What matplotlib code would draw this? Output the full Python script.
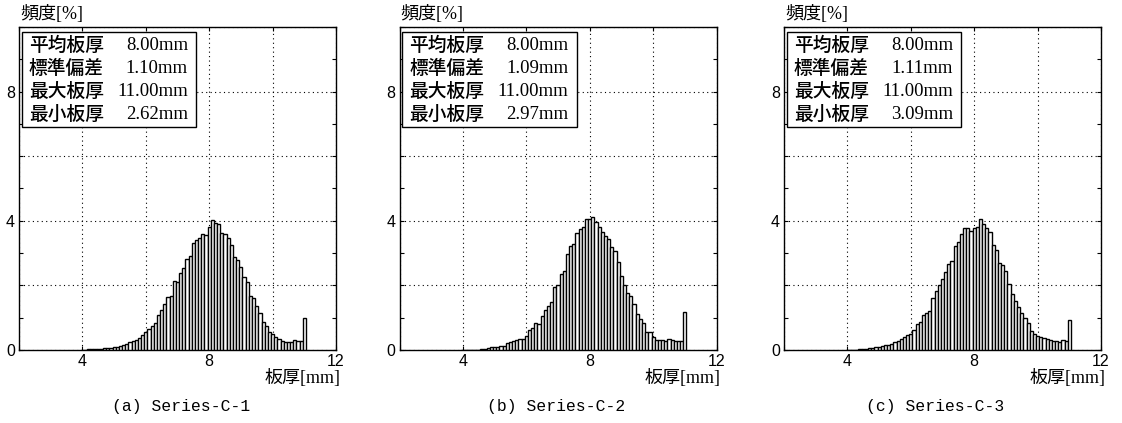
import matplotlib
matplotlib.use("Agg")
import matplotlib.pyplot as plt
import numpy as np
from matplotlib.patches import Rectangle
from matplotlib.ticker import MultipleLocator, FuncFormatter

plt.rcParams['font.family'] = ['Liberation Serif', 'Noto Sans CJK JP']

# 板厚のビン中心 (0.1mm刻み)
thickness = np.round(np.arange(4.0, 11.05, 0.1), 1)

freq_c1 = [0.01, 0.01, 0.02, 0.02, 0.03, 0.03, 0.04, 0.05, 0.06, 0.07,
           0.08, 0.10, 0.12, 0.15, 0.20, 0.26, 0.28, 0.30, 0.36, 0.46,
           0.55, 0.64, 0.75, 0.85, 1.08, 1.24, 1.43, 1.65, 1.68, 2.15,
           2.09, 2.38, 2.53, 2.81, 2.91, 3.31, 3.41, 3.46, 3.60, 3.57,
           3.82, 4.03, 3.93, 3.91, 3.62, 3.60, 3.46, 3.26, 2.89, 2.79,
           2.56, 2.27, 2.12, 1.67, 1.60, 1.36, 1.14, 0.88, 0.74, 0.57,
           0.50, 0.41, 0.33, 0.29, 0.26, 0.26, 0.26, 0.30, 0.29, 0.28,
           1.00]
freq_c2 = [0.00, 0.00, 0.01, 0.01, 0.01, 0.01, 0.02, 0.03, 0.05, 0.08,
           0.10, 0.10, 0.13, 0.13, 0.22, 0.24, 0.28, 0.31, 0.34, 0.34,
           0.42, 0.63, 0.68, 0.84, 0.82, 1.04, 1.25, 1.37, 1.50, 1.94,
           2.02, 2.35, 2.45, 2.97, 3.23, 3.28, 3.61, 3.74, 3.82, 4.05,
           4.07, 4.13, 3.95, 3.82, 3.64, 3.54, 3.43, 3.18, 3.07, 2.71,
           2.30, 2.01, 1.78, 1.68, 1.42, 1.11, 0.96, 0.84, 0.57, 0.55,
           0.39, 0.31, 0.31, 0.31, 0.29, 0.34, 0.31, 0.29, 0.28, 0.27,
           1.19]
freq_c3 = [0.00, 0.01, 0.01, 0.01, 0.02, 0.03, 0.04, 0.05, 0.06, 0.08,
           0.09, 0.11, 0.14, 0.17, 0.20, 0.25, 0.29, 0.35, 0.39, 0.46,
           0.50, 0.63, 0.79, 0.87, 1.08, 1.15, 1.22, 1.62, 1.84, 2.01,
           2.19, 2.42, 2.65, 2.76, 3.22, 3.33, 3.59, 3.79, 3.79, 3.69,
           3.79, 3.82, 4.05, 3.89, 3.77, 3.64, 3.25, 3.09, 2.70, 2.63,
           2.45, 2.03, 1.72, 1.53, 1.33, 1.15, 1.00, 0.84, 0.58, 0.48,
           0.42, 0.39, 0.37, 0.34, 0.32, 0.29, 0.27, 0.26, 0.32, 0.27,
           0.94]

captions = ['(a) Series-C-1', '(b) Series-C-2', '(c) Series-C-3']
stat_names = ['平均板厚', '標準偏差', '最大板厚', '最小板厚']
mean_t = [8.00, 8.00, 8.00]
std_t = [1.10, 1.09, 1.11]
max_t = [11.00, 11.00, 11.00]
min_t = [2.62, 2.97, 3.09]

series = [freq_c1, freq_c2, freq_c3]
lefts = [19, 399.5, 784]
caption_x = [0.511, 0.494, 0.476]

W, H = 1122, 423
fig = plt.figure(figsize=(W / 100, H / 100), dpi=100)

for i, freq in enumerate(series):
    ax = fig.add_axes([lefts[i] / W, 1 - 350 / H, 317 / W, 323 / H])
    ax.bar(thickness, freq, width=0.1, color='white', edgecolor='black',
           linewidth=1.0, zorder=3)

    ax.set_xlim(2, 12)
    ax.set_ylim(0, 10)
    ax.xaxis.set_major_locator(MultipleLocator(2))
    ax.yaxis.set_major_locator(MultipleLocator(2))
    ax.yaxis.set_minor_locator(MultipleLocator(1))
    ax.xaxis.set_major_formatter(FuncFormatter(lambda v, p: f'{v:g}' if v in (4, 8, 12) else ''))
    ax.yaxis.set_major_formatter(FuncFormatter(lambda v, p: f'{v:g}' if v in (0, 4, 8) else ''))
    ax.tick_params(which='both', direction='in', top=True, right=True,
                   length=3, width=0.8, labelsize=11.5, pad=3)
    for t in ax.get_xticklabels() + ax.get_yticklabels():
        t.set_family('Liberation Sans')
    ax.grid(True, which='major', linestyle=(0, (1, 3)), color='black', linewidth=0.8, zorder=0)
    for s in ax.spines.values():
        s.set_linewidth(1.0)

    # 統計値の枠
    ax.add_patch(Rectangle((0.0085, 0.691), 0.55, 0.294, transform=ax.transAxes,
                           facecolor='white', edgecolor='black', linewidth=1.0, zorder=5))
    values = [mean_t[i], std_t[i], max_t[i], min_t[i]]
    rows_y = [0.944, 0.872, 0.800, 0.728]
    for name, val, y in zip(stat_names, values, rows_y):
        ax.text(0.031, y, name, transform=ax.transAxes, fontsize=13.5,
                family='Noto Sans CJK JP', fontweight='medium',
                va='center', ha='left', zorder=6)
        ax.text(0.533, y, f'{val:.2f}mm', transform=ax.transAxes, fontsize=13.5,
                va='center', ha='right', zorder=6)

    ax.text(0.003, 1.04, '頻度[%]', transform=ax.transAxes, fontsize=13,
            va='center', ha='left')
    ax.text(1.013, -0.087, '板厚[mm]', transform=ax.transAxes, fontsize=13,
            va='center', ha='right')
    ax.text(caption_x[i], -0.176, captions[i], transform=ax.transAxes, fontsize=11.8,
            family='Liberation Mono', va='center', ha='center')

fig.savefig('out.png', dpi=100)
